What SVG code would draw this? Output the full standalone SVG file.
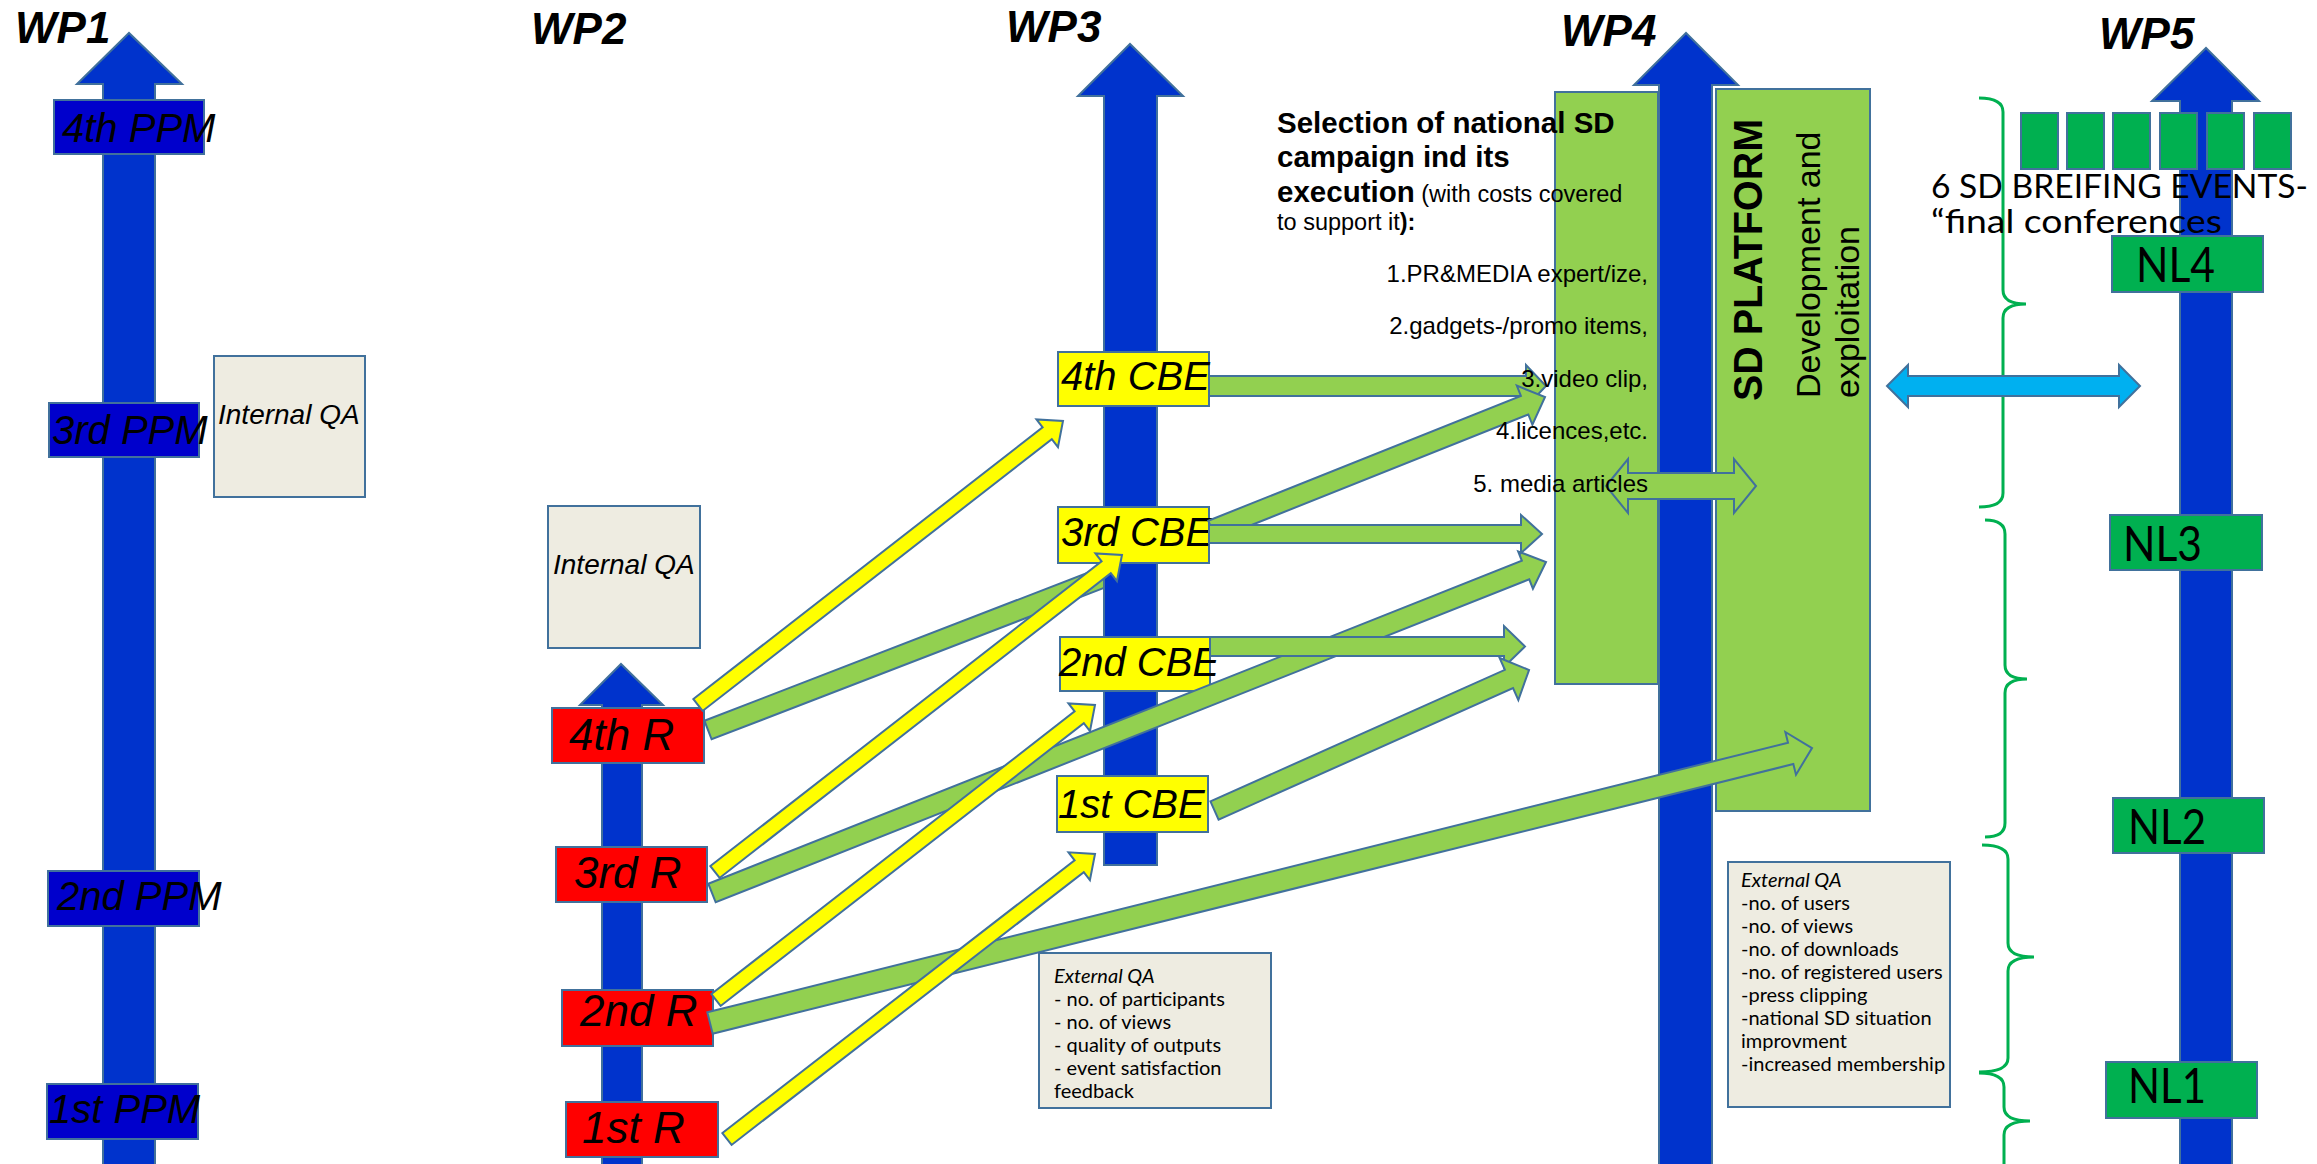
<svg xmlns="http://www.w3.org/2000/svg" width="2317" height="1164" viewBox="0 0 2317 1164">
<defs>
<style>
.shaft{fill:#0033CC;stroke:#41719C;stroke-width:2}
.ppm{fill:#0000CC;stroke:#41719C;stroke-width:2}
.rbox{fill:#FF0000;stroke:#41719C;stroke-width:2}
.cbe{fill:#FFFF00;stroke:#41719C;stroke-width:2}
.qa{fill:#EEECE1;stroke:#41719C;stroke-width:2}
.gbox{fill:#92D050;stroke:#41719C;stroke-width:2}
.nl{fill:#00B050;stroke:#41719C;stroke-width:2}
.ya{fill:#FFFF00;stroke:#41719C;stroke-width:2;stroke-linejoin:miter}
.ga{fill:#92D050;stroke:#41719C;stroke-width:2;stroke-linejoin:miter}
.ba{fill:#00B0F0;stroke:#41719C;stroke-width:2}
.brace{fill:none;stroke:#00B050;stroke-width:3}
.wp{font-family:"Liberation Sans",Arial,sans-serif;font-style:italic;font-weight:bold;font-size:44px;fill:#000}
.big{font-family:"Liberation Sans",Arial,sans-serif;font-style:italic;font-size:40px;fill:#000}
.rt{font-family:"Liberation Sans",Arial,sans-serif;font-style:italic;font-size:44px;fill:#000}
.iqa{font-family:"Liberation Sans",Arial,sans-serif;font-style:italic;font-size:28px;fill:#000}
.cal{font-family:Lato,"Liberation Sans",sans-serif;font-size:20px;fill:#000}
.nlt{font-family:Lato,"Liberation Sans",sans-serif;font-size:48px;fill:#000}
.selb{font-family:"Liberation Sans",Arial,sans-serif;font-weight:bold;font-size:29.5px;fill:#000}
.seln{font-family:"Liberation Sans",Arial,sans-serif;font-weight:normal;font-size:23.5px;fill:#000}
.lst{font-family:"Liberation Sans",Arial,sans-serif;font-size:24px;fill:#000}
</style>
</defs>
<rect width="2317" height="1164" fill="#FFFFFF"/>

<g id="lanes">
<polygon id="wp1-axis" class="shaft" points="103,1170 103,84 77,84 129,33 182,84 155,84 155,1170"/>
<polygon id="wp2-axis" class="shaft" points="602,1170 602,705 580,705 621,664 663,705 642,705 642,1170"/>
<polygon id="wp3-axis" class="shaft" points="1104,865 1104,96 1078,96 1130,44 1183,96 1157,96 1157,865"/>
<polygon id="wp4-axis" class="shaft" points="1659,1170 1659,85 1634,85 1686,33 1738,85 1712,85 1712,1170"/>
<polygon id="wp5-axis" class="shaft" points="2180,1170 2180,101 2152,101 2206,48 2259,101 2232,101 2232,1170"/>
</g>

<g id="titles">
<text class="wp" x="15" y="43">WP1</text>
<text class="wp" x="531" y="44">WP2</text>
<text class="wp" x="1006" y="42">WP3</text>
<text class="wp" x="1561" y="46">WP4</text>
<text class="wp" x="2099" y="49">WP5</text>
</g>

<g id="braces">
<path class="brace" d="M1979,98 Q2003,98 2003,112 V290 Q2003,304 2026,304 Q2003,304 2003,318 V493 Q2003,507 1979,507"/>
<path class="brace" d="M1985,520 Q2005,520 2005,534 V665 Q2005,679 2027,679 Q2005,679 2005,693 V823 Q2005,837 1985,837"/>
<path class="brace" d="M1982,845 Q2008,845 2008,859 V943 Q2008,957 2034,957 Q2008,957 2008,971 V1058 Q2008,1072 1979,1072"/>
<path class="brace" d="M1979,1073 Q2004,1073 2004,1087 V1107 Q2004,1121 2030,1121 Q2004,1121 2004,1135 V1170"/>
</g>

<g id="ppm4"><rect class="ppm" x="54" y="100" width="150" height="54"/><text class="big" x="62" y="142">4th PPM</text></g>
<g id="ppm3"><rect class="ppm" x="49" y="403" width="150" height="54"/><text class="big" x="52" y="444">3rd PPM</text></g>
<g id="ppm2"><rect class="ppm" x="48" y="871" width="151" height="55"/><text class="big" x="57" y="910">2nd PPM</text></g>
<g id="ppm1"><rect class="ppm" x="47" y="1084" width="151" height="55"/><text class="big" x="49" y="1123">1st PPM</text></g>
<g id="qa-wp1"><rect class="qa" x="214" y="356" width="151" height="141"/><text class="iqa" x="218" y="424">Internal QA</text></g>
<g id="qa-wp2"><rect class="qa" x="548" y="506" width="152" height="142"/><text class="iqa" x="553" y="574">Internal QA</text></g>

<g id="r4"><rect class="rbox" x="552" y="708" width="152" height="55"/><text class="rt" x="569" y="750">4th R</text></g>
<g id="r3"><rect class="rbox" x="556" y="847" width="151" height="55"/><text class="rt" x="574" y="888">3rd R</text></g>
<g id="r2"><rect class="rbox" x="562" y="990" width="151" height="56"/><text class="rt" x="580" y="1026">2nd R</text></g>
<g id="r1"><rect class="rbox" x="566" y="1102" width="152" height="55"/><text class="rt" x="582" y="1143">1st R</text></g>

<g id="cbe4"><rect class="cbe" x="1058" y="352" width="151" height="54"/><text class="big" x="1061" y="390">4th CBE</text></g>
<g id="cbe3"><rect class="cbe" x="1058" y="507" width="151" height="56"/><text class="big" x="1061" y="546">3rd CBE</text></g>
<g id="cbe2"><rect class="cbe" x="1060" y="637" width="150" height="54"/><text class="big" x="1059" y="676">2nd CBE</text></g>
<g id="cbe1"><rect class="cbe" x="1057" y="776" width="151" height="56"/><text class="big" x="1058" y="818">1st CBE</text></g>

<g id="campaign"><rect class="gbox" x="1555" y="92" width="103" height="592"/></g>
<g id="platform">
<rect class="gbox" x="1716" y="89" width="154" height="722"/>
<text transform="translate(1762,401) rotate(-90)" font-family="'Liberation Sans',Arial,sans-serif" font-weight="bold" font-size="40" textLength="282" lengthAdjust="spacingAndGlyphs">SD PLATFORM</text>
<text transform="translate(1820,398) rotate(-90)" font-family="'Liberation Sans',Arial,sans-serif" font-size="34">Development and</text>
<text transform="translate(1859,398) rotate(-90)" font-family="'Liberation Sans',Arial,sans-serif" font-size="34">exploitation</text>
</g>

<g id="ext-qa-wp3">
<rect class="qa" x="1039" y="953" width="232" height="155"/>
<text class="cal" x="1054" y="983" font-style="italic">External QA</text>
<text class="cal" x="1054" y="1006">- no. of participants</text>
<text class="cal" x="1054" y="1029">- no. of views</text>
<text class="cal" x="1054" y="1052">- quality of outputs</text>
<text class="cal" x="1054" y="1075">- event satisfaction</text>
<text class="cal" x="1054" y="1098">feedback</text>
</g>
<g id="ext-qa-wp4">
<rect class="qa" x="1728" y="862" width="222" height="245"/>
<text class="cal" x="1741" y="887" font-style="italic">External QA</text>
<text class="cal" x="1741" y="910">-no. of users</text>
<text class="cal" x="1741" y="933">-no. of views</text>
<text class="cal" x="1741" y="956">-no. of downloads</text>
<text class="cal" x="1741" y="979">-no. of registered users</text>
<text class="cal" x="1741" y="1002">-press clipping</text>
<text class="cal" x="1741" y="1025">-national SD situation</text>
<text class="cal" x="1741" y="1048">improvment</text>
<text class="cal" x="1741" y="1071">-increased membership</text>
</g>

<g id="nl4"><rect class="nl" x="2112" y="236" width="151" height="56"/><text class="nlt" x="2136" y="282" textLength="79" lengthAdjust="spacingAndGlyphs">NL4</text></g>
<g id="nl3"><rect class="nl" x="2110" y="515" width="152" height="55"/><text class="nlt" x="2123" y="561" textLength="79" lengthAdjust="spacingAndGlyphs">NL3</text></g>
<g id="nl2"><rect class="nl" x="2113" y="798" width="151" height="55"/><text class="nlt" x="2128" y="844" textLength="78" lengthAdjust="spacingAndGlyphs">NL2</text></g>
<g id="nl1"><rect class="nl" x="2106" y="1062" width="151" height="56"/><text class="nlt" x="2128" y="1103" textLength="78" lengthAdjust="spacingAndGlyphs">NL1</text></g>

<g id="events">
<rect class="nl" x="2021" y="113" width="37" height="56"/>
<rect class="nl" x="2067" y="113" width="37" height="56"/>
<rect class="nl" x="2113" y="113" width="37" height="56"/>
<rect class="nl" x="2160" y="113" width="37" height="56"/>
<rect class="nl" x="2207" y="113" width="37" height="56"/>
<rect class="nl" x="2254" y="113" width="37" height="56"/>
<text font-family="Lato,'Liberation Sans',sans-serif" font-size="32" x="1931" y="198" textLength="377" lengthAdjust="spacingAndGlyphs">6 SD BREIFING EVENTS-</text>
<text font-family="Lato,'Liberation Sans',sans-serif" font-size="32" x="1931" y="233" textLength="291" lengthAdjust="spacingAndGlyphs">“final conferences</text>
</g>

<g id="connectors">
<polygon class="ga" points="704.4,720.7 1104,566.5 1104,587.9 711.6,739.3"/>
<polygon class="ga" transform="translate(710,1023) rotate(-14.01)" points="0,-11 1113.8,-11 1113.8,-22 1135.8,0 1113.8,22 1113.8,11 0,11"/>
<polygon class="ga" transform="translate(712,893) rotate(-21.65)" points="0,-10 875.3,-10 875.3,-20 897.3,0 875.3,20 875.3,10 0,10"/>
<polygon class="ga" points="1209,376 1526,376 1526,365 1546,386 1526,407 1526,396 1209,396"/>
<polygon class="ga" transform="translate(1212,530) rotate(-21.77)" points="0,-10 336.6,-10 336.6,-21 358.6,0 336.6,21 336.6,10 0,10"/>
<polygon class="ga" points="1209,525 1521,525 1521,515 1542,534 1521,553 1521,543 1209,543"/>
<polygon class="ga" points="1210,637 1504,637 1504,626 1525,646.5 1504,667 1504,656 1210,656"/>
<polygon class="ga" transform="translate(1214.5,810.5) rotate(-24.07)" points="0,-10 322.5,-10 322.5,-23 344.5,0 322.5,23 322.5,10 0,10"/>
<polygon class="ya" transform="translate(698,705) rotate(-37.89)" points="0,-7.5 442.5,-7.5 442.5,-17.5 462.5,0 442.5,17.5 442.5,7.5 0,7.5"/>
<polygon class="ya" transform="translate(715,872) rotate(-37.92)" points="0,-7.5 495.9,-7.5 495.9,-17.5 515.9,0 495.9,17.5 495.9,7.5 0,7.5"/>
<polygon class="ya" transform="translate(716,1000) rotate(-37.90)" points="0,-7.5 460.3,-7.5 460.3,-17.5 480.3,0 460.3,17.5 460.3,7.5 0,7.5"/>
<polygon class="ya" transform="translate(727,1139) rotate(-37.76)" points="0,-7.5 445.5,-7.5 445.5,-17.5 465.5,0 445.5,17.5 445.5,7.5 0,7.5"/>
<polygon class="ga" points="1606,486 1628,459 1628,473 1734,473 1734,459 1756,486 1734,513 1734,499 1628,499 1628,513"/>
<polygon class="ba" points="1887,386 1908,365 1908,376 2119,376 2119,365 2140,386 2119,407 2119,396 1908,396 1908,407"/>
</g>

<g id="campaign-text">
<text class="selb" x="1277" y="133">Selection of national SD</text>
<text class="selb" x="1277" y="167">campaign ind its</text>
<text x="1277" y="202"><tspan class="selb">execution</tspan><tspan class="seln"> (with costs covered</tspan></text>
<text x="1277" y="230"><tspan class="seln">to support it</tspan><tspan class="selb" style="font-size:23.5px">):</tspan></text>
<text class="lst" x="1648" y="282" text-anchor="end">1.PR&amp;MEDIA expert/ize,</text>
<text class="lst" x="1648" y="334" text-anchor="end">2.gadgets-/promo items,</text>
<text class="lst" x="1648" y="387" text-anchor="end">3.video clip,</text>
<text class="lst" x="1648" y="439" text-anchor="end">4.licences,etc.</text>
<text class="lst" x="1648" y="492" text-anchor="end">5. media articles</text>
</g>
</svg>
